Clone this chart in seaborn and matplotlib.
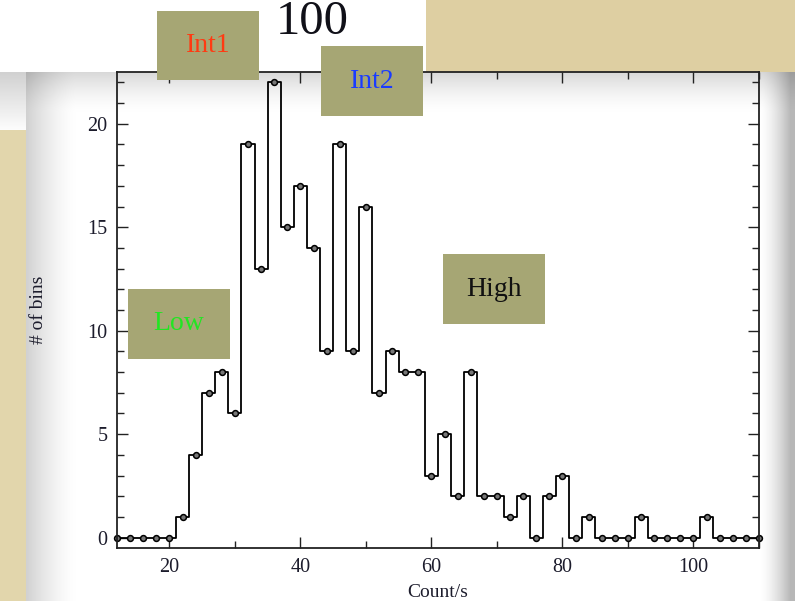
import numpy as np
import pandas as pd
import matplotlib
matplotlib.use("Agg")
import matplotlib.pyplot as plt
from matplotlib.patches import Rectangle
import seaborn as sns

# ---- data ----
count_rate = list(range(12, 111, 2))
n_bins = [0, 0, 0, 0, 0, 1, 4, 7, 8, 6,
          19, 13, 22, 15, 17, 14, 9, 19, 9, 16,
          7, 9, 8, 8, 3, 5, 2, 8, 2, 2,
          1, 2, 0, 2, 3, 0, 1, 0, 0, 0,
          1, 0, 0, 0, 0, 1, 0, 0, 0, 0]
x_ticks = [20, 40, 60, 80, 100]
y_ticks = [0, 5, 10, 15, 20]
box_labels = ["Int1", "Int2", "Low", "High"]
box_text_colors = ["#ff3a12", "#1a3cff", "#22e622", "#111111"]
title_fragment = "100"

df = pd.DataFrame({"rate": count_rate, "bins": n_bins})

W, H = 795, 601
sns.set_theme(style="ticks")
plt.rcParams["font.family"] = ["Liberation Serif", "DejaVu Serif"]

fig = plt.figure(figsize=(W / 100, H / 100), dpi=100)

# ---- background (slide / torn paper look) ----
Y, X = np.mgrid[0:H, 0:W]
bg = np.ones((H, W, 3))
beige = np.array([222, 207, 162]) / 255.0
beige2 = np.array([226, 214, 172]) / 255.0
sheet_top, sheet_left, sheet_right = 72, 26, 790
f = np.ones((H, W))
f *= 1 - 0.15 * (1 - np.clip((Y - sheet_top) / 40.0, 0, 1)) ** 1.5
f *= 1 - 0.18 * (1 - np.clip((X - sheet_left) / 50.0, 0, 1)) ** 1.5
f *= 1 - 0.28 * (1 - np.clip((sheet_right - X) / 30.0, 0, 1)) ** 1.5
bg = bg * f[..., None]
top_mask = Y < sheet_top
bg[top_mask & (X >= 426)] = beige
bg[top_mask & (X < 426)] = 1.0
left_mask = X < sheet_left
g = 0.82 + 0.18 * np.clip((Y - 72) / 60.0, 0, 1)
bgl = np.repeat(g[..., None], 3, axis=2)
sel = left_mask & ~top_mask
bg[sel] = bgl[sel]
bg[left_mask & (Y >= 130)] = beige2
bg[(X >= sheet_right) & top_mask] = beige
fig.figimage(np.clip(bg, 0, 1), xo=0, yo=0, origin="upper", zorder=-5)

# ---- axes ----
ax = fig.add_axes([117 / W, 1 - 548 / H, (759 - 117) / W, (548 - 72) / H])
ax.set_zorder(1)
ax.set_facecolor("none")
ax.patch.set_alpha(0)
sns.lineplot(data=df, x="rate", y="bins", ax=ax, color="black",
             drawstyle="steps-mid", linewidth=1.3, marker="o",
             markersize=4.2, markerfacecolor="#777777",
             markeredgecolor="black", markeredgewidth=1.1, clip_on=False)

ax.set_xticks(x_ticks)
ax.set_xticks(list(range(10, 111, 10)), minor=True)
ax.set_yticks(y_ticks)
ax.set_yticks(list(range(0, 23)), minor=True)
ax.set_xlim(12, 110)
ax.set_ylim(-0.5, 22.5)
ax.tick_params(which="both", direction="in", top=True, right=True,
               labelsize=14.5, labelcolor="#1c1c2c", color="#222222", width=1.0)
ax.tick_params(which="major", length=8, pad=7)
ax.tick_params(which="minor", length=5)
for s in ax.spines.values():
    s.set_linewidth(1.3)
    s.set_color("#222222")
ax.set_xlabel("Count/s", fontsize=14, color="#1c1c2c", labelpad=5)
ax.set_ylabel("# of bins", fontsize=14, color="#1c1c2c", labelpad=29)

# ---- label boxes ----
box_px = [(157, 11, 259, 80), (321, 46, 423, 116), (128, 289, 230, 359), (443, 254, 545, 324)]
box_color = "#a6a674"
for (x0, y0, x1, y1), lab, col in zip(box_px, box_labels, box_text_colors):
    fig.add_artist(Rectangle((x0 / W, 1 - y1 / H), (x1 - x0) / W, (y1 - y0) / H,
                             transform=fig.transFigure, facecolor=box_color,
                             edgecolor="none", zorder=5))
    fig.text((x0 + x1) / 2 / W, 1 - (y0 + y1) / 2 / H, lab, color=col,
             fontsize=20, ha="center", va="center", zorder=6)

fig.text(312 / W, 1 - 34 / H, title_fragment, fontsize=35, color="#101018",
         ha="center", va="baseline", zorder=6)

fig.savefig("out.png", dpi=100)
